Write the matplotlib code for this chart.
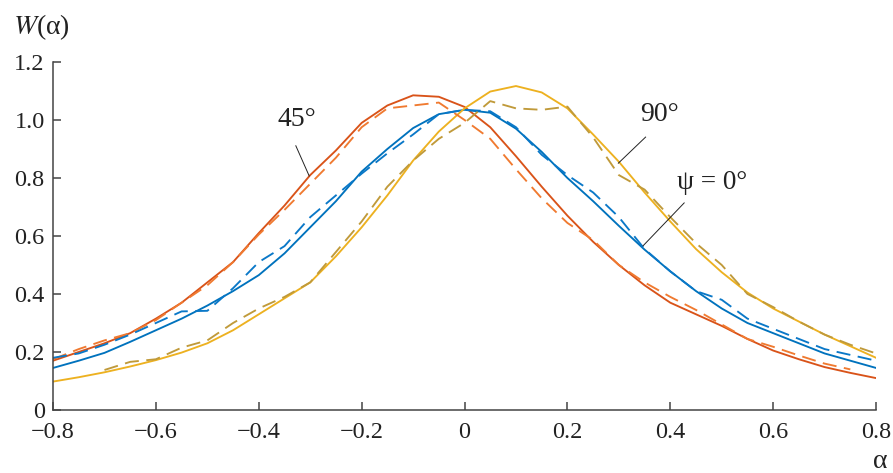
import matplotlib.pyplot as plt
import numpy as np

plt.rcParams['font.family'] = ['Liberation Serif', 'DejaVu Serif']
plt.rcParams['mathtext.fontset'] = 'stix'

# angle of incidence alpha, step 0.05
alpha = np.round(np.arange(-0.8, 0.8001, 0.05), 2)

# calculated curves (solid)
w45_calc = [0.17, 0.20, 0.23, 0.265, 0.315, 0.37, 0.44, 0.51, 0.61, 0.705, 0.81,
            0.895, 0.99, 1.05, 1.085, 1.08, 1.045, 0.975, 0.875, 0.77, 0.67, 0.58,
            0.50, 0.43, 0.37, 0.33, 0.29, 0.245, 0.205, 0.175, 0.148, 0.128, 0.11]
w0_calc = [0.145, 0.17, 0.197, 0.235, 0.275, 0.315, 0.36, 0.41, 0.465, 0.54, 0.63,
           0.72, 0.822, 0.90, 0.972, 1.02, 1.035, 1.025, 0.97, 0.89, 0.80, 0.72,
           0.635, 0.553, 0.478, 0.41, 0.35, 0.30, 0.265, 0.23, 0.195, 0.17, 0.145]
w90_calc = [0.098, 0.113, 0.13, 0.15, 0.172, 0.198, 0.23, 0.275, 0.33, 0.385, 0.44,
            0.53, 0.63, 0.74, 0.86, 0.96, 1.04, 1.098, 1.117, 1.095, 1.04, 0.95,
            0.856, 0.75, 0.65, 0.555, 0.475, 0.405, 0.35, 0.305, 0.26, 0.22, 0.18]

# measured curves (dashed)
w45_meas = [0.175, 0.21, 0.24, 0.265, 0.31, 0.37, 0.43, 0.51, 0.605, 0.69, 0.78,
            0.87, 0.975, 1.04, 1.05, 1.06, 1.00, 0.935, 0.83, 0.73, 0.645, 0.586,
            0.50, 0.44, 0.39, 0.345, 0.295, 0.245, 0.218, 0.188, 0.16, 0.14]
w0_meas = [0.18, 0.195, 0.225, 0.26, 0.30, 0.34, 0.342, 0.42, 0.51, 0.565, 0.665,
           0.74, 0.815, 0.885, 0.95, 1.02, 1.035, 1.03, 0.975, 0.88, 0.81, 0.75,
           0.665, 0.555, 0.478, 0.41, 0.38, 0.315, 0.28, 0.245, 0.21, 0.19, 0.17]
alpha90_meas = alpha[2:]
w90_meas = [0.138, 0.166, 0.175, 0.215, 0.24, 0.30, 0.35, 0.39, 0.44, 0.545, 0.65,
            0.77, 0.86, 0.935, 0.99, 1.065, 1.04, 1.035, 1.046, 0.94, 0.81, 0.76,
            0.665, 0.575, 0.50, 0.40, 0.355, 0.305, 0.26, 0.225, 0.195]

xticks = [-0.8, -0.6, -0.4, -0.2, 0, 0.2, 0.4, 0.6, 0.8]
xlabels = ['\u22120.8', '\u22120.6', '\u22120.4', '\u22120.2', '0', '0.2', '0.4', '0.6', '0.8']
yticks = [0, 0.2, 0.4, 0.6, 0.8, 1.0, 1.2]
ylabels = ['0', '0.2', '0.4', '0.6', '0.8', '1.0', '1.2']

fig = plt.figure(figsize=(8.93, 4.73), dpi=100)
ax = fig.add_axes([0.0594, 0.1332, 0.9216, 0.7358])

lw = 1.35
dash = (7.5, 4)
ax.plot(alpha, w45_calc, color='#D95319', lw=lw)
ax.plot(alpha, w0_calc, color='#0072BD', lw=lw)
ax.plot(alpha, w90_calc, color='#EDB120', lw=lw)
ax.plot(alpha[:len(w45_meas)], w45_meas, color='#F07A30', lw=lw, dashes=dash)
ax.plot(alpha, w0_meas, color='#0A78C8', lw=lw, dashes=dash)
ax.plot(alpha90_meas, w90_meas, color='#C09A3A', lw=lw, dashes=dash)

ax.set_xlim(-0.8, 0.8)
ax.set_ylim(0, 1.2)
ax.set_xticks(xticks)
ax.set_xticklabels(xlabels)
ax.set_yticks(yticks)
ax.set_yticklabels(ylabels)
ax.tick_params(direction='in', length=6, width=1.1, color='#444444',
               labelsize=17.5, labelcolor='#222222')
ax.tick_params(axis='y', pad=6)
ax.tick_params(axis='x', pad=9)
for s in ['top', 'right']:
    ax.spines[s].set_visible(False)
for s in ['left', 'bottom']:
    ax.spines[s].set_color('#444444')
    ax.spines[s].set_linewidth(1.1)

# curve labels with leader lines
ax.text(-0.325, 1.0, '45°', fontsize=20, ha='center', va='center', color='#222222')
ax.plot([-0.328, -0.302], [0.911, 0.807], color='#222222', lw=0.7)
ax.text(0.38, 1.02, '90°', fontsize=20, ha='center', va='center', color='#222222')
ax.plot([0.352, 0.299], [0.941, 0.851], color='#222222', lw=0.7)
ax.text(0.482, 0.783, 'ψ = 0°', fontsize=19.5, ha='center', va='center', color='#222222')
ax.plot([0.427, 0.347], [0.714, 0.566], color='#222222', lw=0.7)

fig.text(0.046, 0.943, r'$W$(α)', fontsize=20, ha='center', va='center', color='#222222')
fig.text(0.986, 0.025, 'α', fontsize=20, ha='center', va='center', color='#222222')

fig.savefig('out.png', dpi=100)
